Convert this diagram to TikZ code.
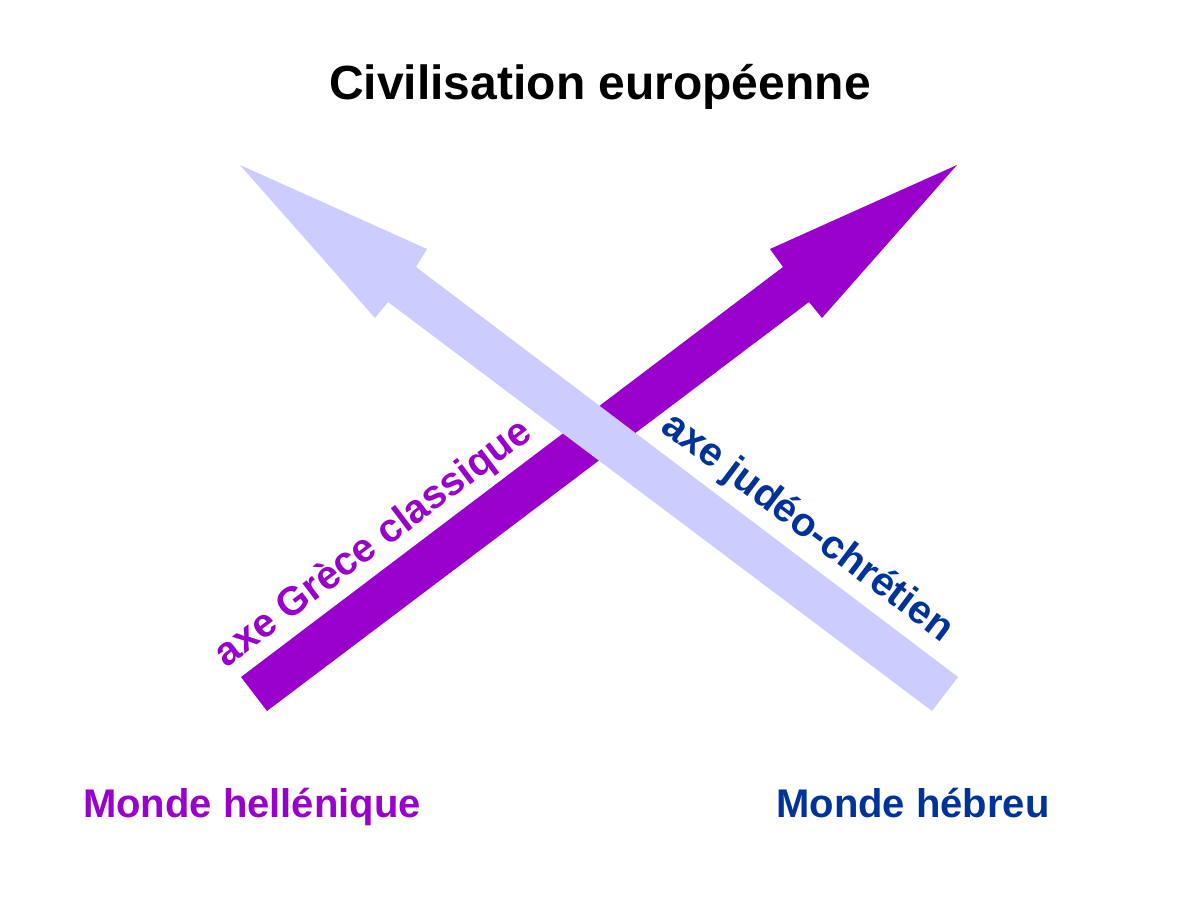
\documentclass[tikz,border=0pt]{standalone}
\usepackage{fontspec}
\setmainfont{Liberation Sans}
\definecolor{purp}{HTML}{9900CC}
\definecolor{lav}{HTML}{CCCCFF}
\definecolor{navyb}{HTML}{003399}
\tikzset{
  lbl/.style={font=\bfseries\fontsize{40}{48}\selectfont, inner sep=0pt},
  ttl/.style={font=\bfseries\fontsize{48}{58}\selectfont, inner sep=0pt, anchor=base}
}
\begin{document}
\begin{tikzpicture}[x=1pt,y=-1pt]
\useasboundingbox[fill=white] (0,0) rectangle (1200,902);
% purple arrow (Grece)
\fill[purp] (241,677) -- (267,711) -- (809,302) -- (822,318) -- (957,165) -- (770,249) -- (783,267) -- cycle;
% lavender arrow (judeo-chretien)
\fill[lav] (958,677) -- (932,711) -- (388,302) -- (375,318) -- (240,165) -- (427,249) -- (416,267) -- cycle;
\node[ttl] (title) at (600,99) {Civilisation européenne};
\node[lbl, text=purp, rotate=37] (grece) at (374,544) {axe Grèce classique};
\node[lbl, text=navyb, rotate=-37] (judeo) at (807,528) {axe judéo-chrétien};
\node[lbl, anchor=base, text=purp] (hell) at (252,817) {Monde hellénique};
\node[lbl, anchor=base, text=navyb] (hebr) at (913,817) {Monde hébreu};
\end{tikzpicture}
\end{document}
